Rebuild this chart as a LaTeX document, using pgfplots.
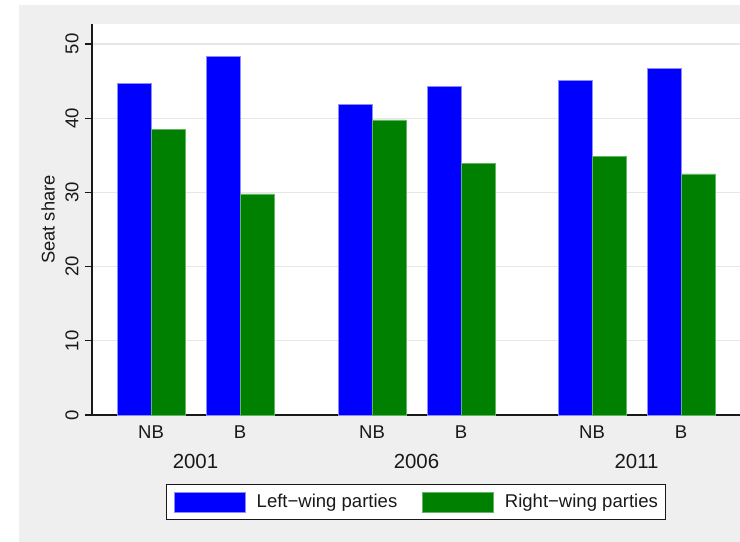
\documentclass[border=0pt]{standalone}
\usepackage{pgfplots}
\pgfplotsset{compat=1.18}
\usepackage{fontspec}
\setmainfont{Liberation Sans}
\definecolor{bggray}{RGB}{239,239,239}
\definecolor{gridgray}{RGB}{230,230,230}
\definecolor{barblue}{RGB}{0,0,255}
\definecolor{bluedge}{RGB}{140,140,255}
\definecolor{bargreen}{RGB}{0,128,0}
\definecolor{greenedge}{RGB}{100,180,100}
\definecolor{txt}{RGB}{25,25,25}
\begin{document}
\begin{tikzpicture}
\path[use as bounding box] (0,0) rectangle (740bp,-542bp);
\fill[bggray] (19bp,-5bp) rectangle (740bp,-542bp);
\begin{axis}[
  at={(92bp,-415bp)}, anchor=south west, scale only axis,
  width=648bp, height=391bp,
  xmin=92, xmax=740, ymin=0, ymax=52.695,
  /pgf/number format/assume math mode=true,
  axis background/.style={fill=white},
  axis x line=bottom, axis y line=left,
  axis line style={-, line width=1.2bp, color=txt},
  x axis line style={shorten <=-7bp},
  ytick={0,10,...,50},
  ymajorgrids, major grid style={gridgray, line width=1.2bp},
  xtick={151,240,372,461,592,681},
  xticklabels={NB,B,NB,B,NB,B},
  extra x ticks={195.5,416.5,636.5},
  extra x tick labels={2001,2006,2011},
  extra x tick style={grid=none, tick style={draw=none}, tick label style={yshift=-29bp, font=\fontsize{20.5}{24}\selectfont}},
  x tick style={draw=none},
  y tick style={draw=txt, line width=1.2bp},
  tick align=outside, major tick length=7bp,
  tick label style={font=\fontsize{18.6}{22}\selectfont, text=txt},
  yticklabel style={xshift=-3bp, rotate=90, anchor=south},
  ylabel={Seat share},
  every axis y label/.style={at={(rel axis cs:-0.0679,0.5)}, rotate=90, anchor=center, font=\fontsize{18.4}{22}\selectfont, text=txt},
  ybar, bar width=34,
  legend columns=2, legend cell align=left,
  legend image code/.code={\fill[#1] (0bp,-10bp) rectangle (71bp,10bp);},
  legend style={at={(0.5,-0.1765)}, anchor=north, draw=txt, line width=1bp, fill=white,
    inner xsep=8bp, inner ysep=7bp, font=\fontsize{18.6}{22}\selectfont, text=txt,
    nodes={inner sep=0pt},
    /tikz/every even column/.append style={column sep=25bp},
    /tikz/every odd column/.append style={column sep=11bp}},
]
\addplot[bar shift=0pt, fill=barblue, draw=bluedge, line width=0.6bp]
  coordinates {(134,44.74) (223,48.3) (355,41.87) (444,44.3) (575,45.05) (664,46.7)};
\addplot[bar shift=0pt, fill=bargreen, draw=greenedge, line width=0.6bp]
  coordinates {(168,38.5) (257,29.8) (389,39.76) (478,33.9) (609,34.9) (698,32.5)};
\legend{Left−wing parties, Right−wing parties}
\end{axis}
\end{tikzpicture}
\end{document}
